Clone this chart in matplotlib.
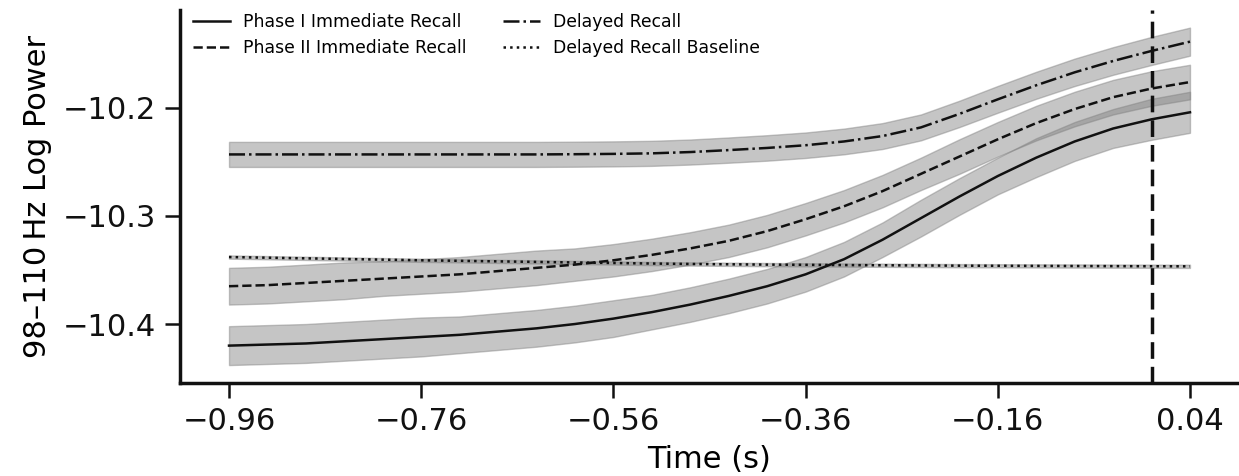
import numpy as np
import matplotlib.pyplot as plt

# Time axis (s)
time = [-0.96, -0.92, -0.88, -0.84, -0.80, -0.76, -0.72, -0.68, -0.64, -0.60,
        -0.56, -0.52, -0.48, -0.44, -0.40, -0.36, -0.32, -0.28, -0.24, -0.20,
        -0.16, -0.12, -0.08, -0.04, 0.00, 0.04]

# Mean log power per condition
phase1_immediate = [-10.420, -10.419, -10.418, -10.416, -10.414, -10.412, -10.410, -10.407,
                    -10.404, -10.400, -10.395, -10.389, -10.382, -10.374, -10.365, -10.354,
                    -10.340, -10.322, -10.302, -10.282, -10.263, -10.246, -10.231, -10.219,
                    -10.2105, -10.204]
phase2_immediate = [-10.365, -10.364, -10.362, -10.360, -10.358, -10.356, -10.354, -10.351,
                    -10.348, -10.345, -10.341, -10.336, -10.330, -10.323, -10.314, -10.303,
                    -10.291, -10.277, -10.261, -10.245, -10.229, -10.214, -10.201, -10.190,
                    -10.182, -10.176]
delayed = [-10.243, -10.243, -10.243, -10.243, -10.243, -10.243, -10.243, -10.243,
           -10.243, -10.2428, -10.2425, -10.242, -10.2408, -10.239, -10.237, -10.2345,
           -10.231, -10.226, -10.218, -10.2055, -10.192, -10.179, -10.167, -10.1565,
           -10.1472, -10.1386]
delayed_baseline = [-10.338, -10.3386, -10.3392, -10.3398, -10.3404, -10.341, -10.3415, -10.342,
                    -10.3425, -10.343, -10.3435, -10.344, -10.3444, -10.3447, -10.345, -10.3452,
                    -10.3454, -10.3456, -10.3458, -10.346, -10.3461, -10.3462, -10.3463, -10.3464,
                    -10.3465, -10.3466]

# Standard error half-widths
phase1_sem = [0.018, 0.018, 0.018, 0.018, 0.018, 0.018, 0.017, 0.017, 0.017, 0.017,
              0.017, 0.016, 0.016, 0.016, 0.016, 0.016, 0.016, 0.016, 0.017, 0.017,
              0.017, 0.018, 0.018, 0.018, 0.019, 0.019]
phase2_sem = [0.017, 0.017, 0.017, 0.017, 0.016, 0.016, 0.016, 0.016, 0.016, 0.015,
              0.015, 0.015, 0.015, 0.015, 0.015, 0.015, 0.015, 0.015, 0.015, 0.016,
              0.016, 0.016, 0.016, 0.016, 0.016, 0.016]
delayed_sem = [0.0116, 0.0116, 0.0116, 0.0116, 0.0116, 0.0116, 0.0116, 0.0116, 0.0116, 0.0116,
               0.0116, 0.0116, 0.0116, 0.0117, 0.0118, 0.0118, 0.0119, 0.012, 0.012, 0.0122,
               0.0124, 0.0125, 0.0127, 0.0128, 0.013, 0.013]
baseline_sem = [0.0015] * len(time)

series = [
    ('Phase I Immediate Recall', phase1_immediate, phase1_sem, '-'),
    ('Phase II Immediate Recall', phase2_immediate, phase2_sem, '--'),
    ('Delayed Recall', delayed, delayed_sem, '-.'),
    ('Delayed Recall Baseline', delayed_baseline, baseline_sem, ':'),
]

fig = plt.figure(figsize=(12.39, 4.76), dpi=100)
ax = fig.add_axes([180 / 1239, 93 / 476, 1059 / 1239, 373 / 476])

t = np.array(time)
for label, mean, sem, ls in series:
    m = np.array(mean)
    s = np.array(sem)
    ax.fill_between(t, m - s, m + s, facecolor='gray', edgecolor='gray',
                    alpha=0.45, linewidth=1)
    ax.plot(t, m, color='#111111', linestyle=ls, linewidth=1.8, label=label)

ax.axvline(0, color='#111111', linestyle=(0, (4.8, 2.3)), linewidth=2.5)

ax.set_xlim(-1.011, 0.091)
ax.set_ylim(-10.4546, -10.1093)
ax.set_xticks(time[::5])
ax.set_xticklabels(['\u22120.96', '\u22120.76', '\u22120.56', '\u22120.36', '\u22120.16', '0.04'])
ax.set_yticks([-10.4, -10.3, -10.2])

ax.spines['top'].set_visible(False)
ax.spines['right'].set_visible(False)
for sp in ('left', 'bottom'):
    ax.spines[sp].set_linewidth(2.5)
    ax.spines[sp].set_color('#111111')
ax.tick_params(axis='both', length=11, width=1.8, labelsize=22, colors='#111111', pad=6)

ax.set_xlabel('Time (s)', fontsize=22, labelpad=7)
ax.set_ylabel('98\u2013110\u2009Hz Log Power', fontsize=22, labelpad=8)

ax.legend(loc='upper left', bbox_to_anchor=(-0.0026, 1.033), ncol=2, frameon=False,
          fontsize=12.4, handlelength=2.15, handletextpad=0.75, labelspacing=0.45,
          columnspacing=2.15)

fig.savefig('out.png', dpi=100)
